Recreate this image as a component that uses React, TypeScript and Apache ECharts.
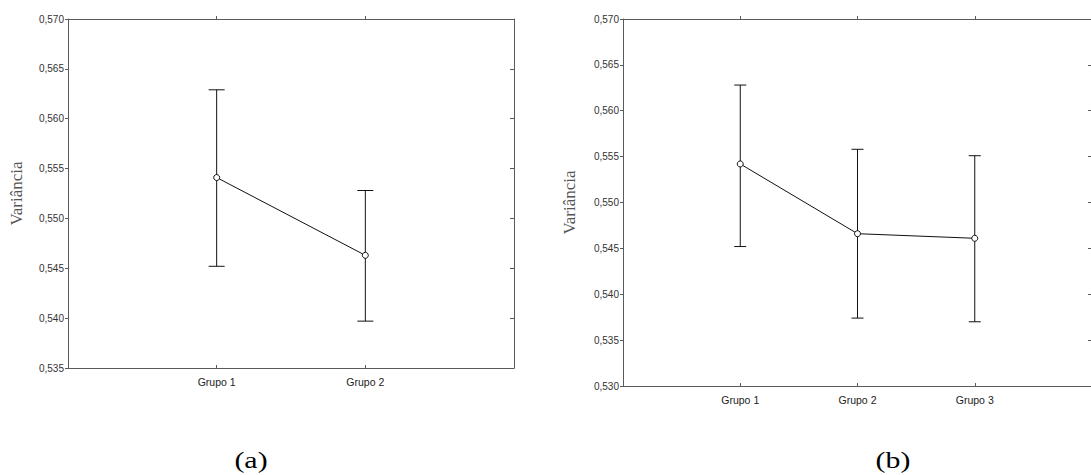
import React, { useEffect, useRef } from "react";
import * as echarts from "echarts";

const categoriesA = ["Grupo 1", "Grupo 2"];
const meanA = [0.5541, 0.5463];
const upperA = [0.5629, 0.5528];
const lowerA = [0.5452, 0.5397];

const categoriesB = ["Grupo 1", "Grupo 2", "Grupo 3"];
const meanB = [0.5542, 0.5466, 0.5461];
const upperB = [0.5628, 0.5558, 0.5551];
const lowerB = [0.5452, 0.5374, 0.537];

const yTicksA = { min: 0.535, max: 0.57, interval: 0.005 };
const yTicksB = { min: 0.53, max: 0.57, interval: 0.005 };

const AXIS_COLOR = "#5a5a5a";

function fmt(v: number) {
  return v.toFixed(3).replace(".", ",");
}

function bottomX(gridIndex: number, cats: string[]) {
  return {
    type: "category",
    gridIndex,
    position: "bottom",
    data: ["", ...cats, ""],
    boundaryGap: false,
    axisLine: { show: true, lineStyle: { color: AXIS_COLOR, width: 1 } },
    axisTick: {
      show: true,
      inside: true,
      length: 3,
      lineStyle: { color: AXIS_COLOR },
      interval: (i: number, v: string) => v !== "",
    },
    axisLabel: {
      show: true,
      interval: 0,
      margin: 8,
      fontFamily: "Liberation Sans",
      fontSize: 10.5,
      color: "#222",
    },
    splitLine: { show: false },
  };
}

function topX(gridIndex: number, cats: string[]) {
  return {
    type: "category",
    gridIndex,
    position: "top",
    data: ["", ...cats, ""],
    boundaryGap: false,
    axisLine: { show: true, lineStyle: { color: AXIS_COLOR, width: 1 } },
    axisTick: {
      show: true,
      inside: false,
      length: 3,
      lineStyle: { color: AXIS_COLOR },
      interval: (i: number, v: string) => v !== "",
    },
    axisLabel: { show: false },
    splitLine: { show: false },
  };
}

function leftY(gridIndex: number, t: { min: number; max: number; interval: number }, gap: number) {
  return {
    type: "value",
    gridIndex,
    position: "left",
    min: t.min,
    max: t.max,
    interval: t.interval,
    name: "Variância",
    nameLocation: "middle",
    nameGap: gap,
    nameTextStyle: { fontFamily: "Liberation Serif", fontSize: 17, color: "#555" },
    axisLine: { show: true, lineStyle: { color: AXIS_COLOR, width: 1 } },
    axisTick: { show: true, inside: false, length: 3, lineStyle: { color: AXIS_COLOR } },
    axisLabel: {
      show: true,
      margin: 4,
      fontFamily: "Liberation Sans",
      fontSize: 10,
      color: "#333",
      formatter: (v: number) => fmt(v),
    },
    splitLine: { show: false },
  };
}

function rightY(gridIndex: number, t: { min: number; max: number; interval: number }) {
  return {
    type: "value",
    gridIndex,
    position: "right",
    min: t.min,
    max: t.max,
    interval: t.interval,
    axisLine: { show: true, lineStyle: { color: AXIS_COLOR, width: 1 } },
    axisTick: { show: true, inside: true, length: 4, lineStyle: { color: AXIS_COLOR } },
    axisLabel: { show: false },
    splitLine: { show: false },
  };
}

function errorSeries(xAxisIndex: number, yAxisIndex: number, lows: number[], highs: number[], cap: number) {
  return {
    type: "custom",
    xAxisIndex,
    yAxisIndex,
    encode: { x: 0, y: [1, 2] },
    data: lows.map((l, i) => [i + 1, l, highs[i]]),
    z: 2,
    renderItem: (params: any, api: any) => {
      const xi = api.value(0);
      const lo = api.coord([xi, api.value(1)]);
      const hi = api.coord([xi, api.value(2)]);
      const h = cap / 2;
      const style = { stroke: "#111", lineWidth: 1 };
      return {
        type: "group",
        children: [
          { type: "line", shape: { x1: lo[0], y1: lo[1], x2: hi[0], y2: hi[1] }, style },
          { type: "line", shape: { x1: hi[0] - h, y1: hi[1], x2: hi[0] + h, y2: hi[1] }, style },
          { type: "line", shape: { x1: lo[0] - h, y1: lo[1], x2: lo[0] + h, y2: lo[1] }, style },
        ],
      };
    },
  };
}

function meanSeries(xAxisIndex: number, yAxisIndex: number, means: number[]) {
  return {
    type: "line",
    xAxisIndex,
    yAxisIndex,
    data: means.map((m, i) => [i + 1, m]),
    symbol: "circle",
    symbolSize: 6,
    z: 5,
    lineStyle: { color: "#111", width: 1 },
    itemStyle: { color: "#fff", borderColor: "#111", borderWidth: 1 },
  };
}

export default function App() {
  const ref = useRef<HTMLDivElement>(null);
  useEffect(() => {
    if (!ref.current) return;
    const chart = echarts.init(ref.current, null, { renderer: "svg" });
    chart.setOption({
      animation: false,
      backgroundColor: "#fff",
      grid: [
        { left: 68, top: 19, width: 446, height: 349, containLabel: false },
        { left: 623, top: 19, width: 469, height: 367, containLabel: false },
      ],
      xAxis: [bottomX(0, categoriesA), topX(0, categoriesA), bottomX(1, categoriesB), topX(1, categoriesB)],
      yAxis: [leftY(0, yTicksA, 43), rightY(0, yTicksA), leftY(1, yTicksB, 45), rightY(1, yTicksB)],
      series: [
        errorSeries(0, 0, lowerA, upperA, 16),
        meanSeries(0, 0, meanA),
        errorSeries(2, 2, lowerB, upperB, 12),
        meanSeries(2, 2, meanB),
      ],
      graphic: [
        {
          type: "text",
          x: 251,
          y: 460,
          scaleX: 1.3,
          style: {
            text: "(a)",
            font: '23px "Liberation Serif"',
            fill: "#000",
            align: "center",
            verticalAlign: "middle",
          },
        },
        {
          type: "text",
          x: 893,
          y: 460,
          scaleX: 1.3,
          style: {
            text: "(b)",
            font: '23px "Liberation Serif"',
            fill: "#000",
            align: "center",
            verticalAlign: "middle",
          },
        },
      ],
    });
    return () => chart.dispose();
  }, []);
  return (
    <div
      style={{
        position: "fixed",
        left: 0,
        top: 0,
        width: 1091,
        height: 475,
        overflow: "hidden",
        background: "#fff",
      }}
    >
      <div ref={ref} style={{ width: 1100, height: 475 }} />
    </div>
  );
}
